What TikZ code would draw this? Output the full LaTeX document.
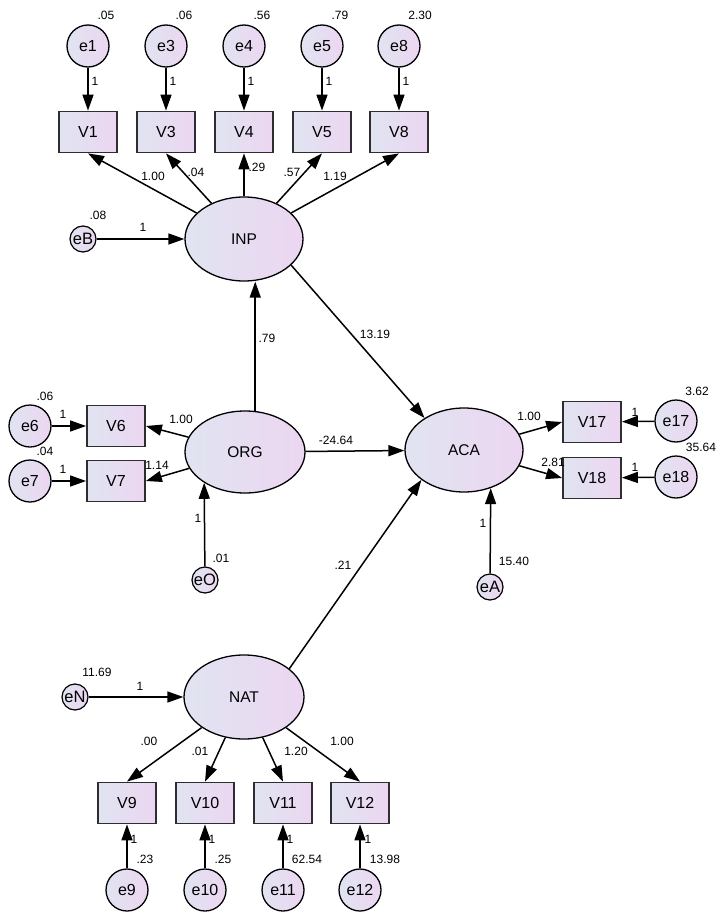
\documentclass[tikz,border=0pt]{standalone}
\usepackage{fontspec}
\setmainfont{Liberation Sans}
\usetikzlibrary{arrows.meta,shapes.geometric}
\definecolor{gL}{RGB}{224,228,241}
\definecolor{gR}{RGB}{236,214,241}
\definecolor{bx}{RGB}{45,45,50}
\begin{document}
\begin{tikzpicture}[x=1pt,y=-1pt,
  grad/.style={left color=gL, right color=gR},
  lat/.style={ellipse, draw, line width=1.3pt, grad, minimum width=118pt, minimum height=84pt, inner sep=0pt, font=\fontsize{15.5}{15.5}\selectfont},
  err/.style={circle, draw, line width=1.3pt, grad, minimum size=42pt, inner sep=0pt, font=\fontsize{16}{16}\selectfont},
  serr/.style={circle, draw, line width=1.2pt, grad, minimum size=26pt, inner sep=0pt, font=\fontsize{16.5}{16.5}\selectfont},
  obs/.style={rectangle, draw=bx, line width=1.8pt, grad, minimum width=58pt, minimum height=41pt, inner sep=0pt, font=\fontsize{16}{16}\selectfont},
  arr/.style={-{Triangle[length=16pt,width=11pt]}, line width=1.5pt},
  num/.style={font=\fontsize{12}{12}\selectfont, inner sep=0pt}
]
\fill[white] (0,0) rectangle (720,915);
\useasboundingbox (0,0) rectangle (720,915);

% top error circles and indicators
\node[err] (e1) at (88,46) {e1};
\node[err] (e3) at (166,46) {e3};
\node[err] (e4) at (244,46) {e4};
\node[err] (e5) at (322,46) {e5};
\node[err] (e8) at (399,46) {e8};
\node[obs] (V1) at (88,132) {V1};
\node[obs] (V3) at (166,132) {V3};
\node[obs] (V4) at (244,132) {V4};
\node[obs] (V5) at (322,132) {V5};
\node[obs] (V8) at (399,132) {V8};

% latent variables
\node[lat] (INP) at (244,239) {INP};
\node[lat, minimum width=120pt, minimum height=82pt] (ORG) at (245,452) {ORG};
\node[lat] (ACA) at (464,450) {ACA};
\node[lat, minimum width=120pt] (NAT) at (244,697) {NAT};

\node[serr] (eB) at (83,239) {eB};
\node[serr] (eO) at (205,580) {eO};
\node[serr] (eA) at (490,587) {eA};
\node[serr] (eN) at (75,697) {eN};

% ORG indicators
\node[obs] (V6) at (116,426) {V6};
\node[obs] (V7) at (116,481) {V7};
\node[err] (e6) at (30,426) {e6};
\node[err] (e7) at (30,481) {e7};

% ACA indicators
\node[obs] (V17) at (592,422) {V17};
\node[obs] (V18) at (592,478) {V18};
\node[err] (e17) at (676,421) {e17};
\node[err] (e18) at (676,477) {e18};

% NAT indicators
\node[obs] (V9) at (127,803) {V9};
\node[obs] (V10) at (205,803) {V10};
\node[obs] (V11) at (283,803) {V11};
\node[obs] (V12) at (360,803) {V12};
\node[err] (e9) at (127,890) {e9};
\node[err] (e10) at (205,890) {e10};
\node[err] (e11) at (283,890) {e11};
\node[err] (e12) at (360,890) {e12};

% arrows: errors to top indicators
\draw[arr] (e1) -- (V1);
\draw[arr] (e3) -- (V3);
\draw[arr] (e4) -- (V4);
\draw[arr] (e5) -- (V5);
\draw[arr] (e8) -- (V8);
% INP loadings
\draw[arr] (INP) -- (V1.south);
\draw[arr] (INP) -- (V3.south);
\draw[arr] (INP) -- (V4.south);
\draw[arr] (INP) -- (V5.south);
\draw[arr] (INP) -- (V8.south);
\draw[arr] (eB) -- (INP);
% structural paths
\draw[arr] (ORG.76) -- (ORG.76 |- INP.south);
\draw[arr] (INP.-29) -- (ACA.141);
\draw[arr] (ORG) -- (ACA);
\draw[arr] (NAT.32) -- (ACA.215);
\draw[arr] (eO) -- (ORG.217);
\draw[arr] (eA) -- (ACA.-55);
\draw[arr] (eN) -- (NAT);
% ORG loadings
\draw[arr] (ORG) -- (V6.east);
\draw[arr] (ORG) -- (V7.east);
\draw[arr] (e6) -- (V6);
\draw[arr] (e7) -- (V7);
% ACA loadings
\draw[arr] (ACA) -- (V17.west);
\draw[arr] (ACA) -- (V18.west);
\draw[arr] (e17) -- (V17);
\draw[arr] (e18) -- (V18);
% NAT loadings
\draw[arr] (NAT) -- (V9.north);
\draw[arr] (NAT) -- (V10.north);
\draw[arr] (NAT) -- (V11.north);
\draw[arr] (NAT) -- (V12.north);
\draw[arr] (e9) -- (V9);
\draw[arr] (e10) -- (V10);
\draw[arr] (e11) -- (V11);
\draw[arr] (e12) -- (V12);

% numbers: top
\node[num] (n1) at (106,15) {.05};
\node[num] (n2) at (184,15) {.06};
\node[num] (n3) at (262,15) {.56};
\node[num] (n4) at (340,15) {.79};
\node[num] (n5) at (420,15) {2.30};
\node[num] (o1) at (95,81) {1};
\node[num] (o2) at (173,81) {1};
\node[num] (o3) at (251,81) {1};
\node[num] (o4) at (329,81) {1};
\node[num] (o5) at (406,81) {1};
\node[num] (l1) at (153,176) {1.00};
\node[num] (l2) at (196,172) {.04};
\node[num] (l3) at (257,167) {.29};
\node[num] (l4) at (292,172) {.57};
\node[num] (l5) at (335,176) {1.19};
\node[num] (vB) at (98,215) {.08};
\node[num] (oB) at (143,227) {1};
\node[num] (p1) at (267,338) {.79};
\node[num] (p2) at (375,334) {13.19};
\node[num] (p3) at (336,440) {-24.64};
\node[num] (p4) at (343,565) {.21};
% ORG side
\node[num] (v6) at (45,396) {.06};
\node[num] (v7) at (45,451) {.04};
\node[num] (o6) at (63,414) {1};
\node[num] (o7) at (63,469) {1};
\node[num] (l6) at (181,419) {1.00};
\node[num] (l7) at (157,465) {1.14};
\node[num] (vO) at (221,558) {.01};
\node[num] (oO) at (198,518) {1};
% ACA side
\node[num] (l17) at (529,416) {1.00};
\node[num] (l18) at (553,462) {2.81};
\node[num] (v17) at (697,391) {3.62};
\node[num] (v18) at (701,447) {35.64};
\node[num] (o17) at (635,412) {1};
\node[num] (o18) at (635,467) {1};
\node[num] (vA) at (514,561) {15.40};
\node[num] (oA) at (483,523) {1};
% NAT side
\node[num] (vN) at (97,672) {11.69};
\node[num] (oN) at (140,686) {1};
\node[num] (l9) at (149,741) {.00};
\node[num] (l10) at (200,751) {.01};
\node[num] (l11) at (296,751) {1.20};
\node[num] (l12) at (342,741) {1.00};
\node[num] (o9) at (134,839) {1};
\node[num] (o10) at (212,839) {1};
\node[num] (o11) at (290,839) {1};
\node[num] (o12) at (368,839) {1};
\node[num] (v9) at (145,859) {.23};
\node[num] (v10) at (223,859) {.25};
\node[num] (v11) at (307,859) {62.54};
\node[num] (v12) at (385,859) {13.98};
\end{tikzpicture}
\end{document}
